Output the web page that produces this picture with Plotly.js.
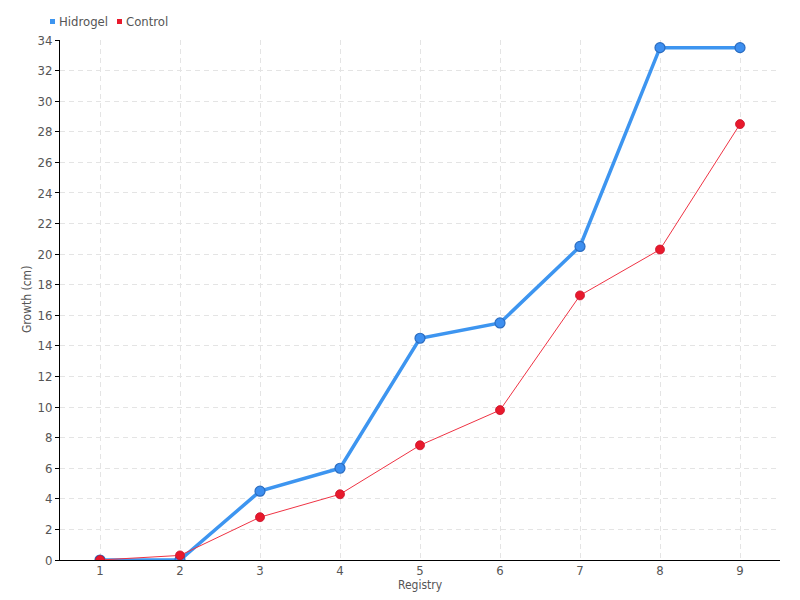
<!DOCTYPE html>
<html><head><meta charset="utf-8">
<script src="https://cdn.plot.ly/plotly-3.0.1.min.js"></script>
<style>body{margin:0;background:#fff}#chart{width:800px;height:600px}</style>
</head><body><div id="chart"></div>
<script>
const registry = [1,2,3,4,5,6,7,8,9];
const hidrogel = [0,0,4.5,6,14.5,15.5,20.5,33.5,33.5];
const control = [0,0.3,2.8,4.3,7.5,9.8,17.3,20.3,28.5];
const yTicks = [0,2,4,6,8,10,12,14,16,18,20,22,24,26,28,30,32,34];
const seriesNames = ['Hidrogel', 'Control'];
const seriesColors = ['#3d95f0', '#e8192c'];
const xTitle = 'Registry';
const yTitle = 'Growth (cm)';

const fam = '"DejaVu Sans Condensed", "DejaVu Sans", sans-serif';
const txt = {family: fam, size: 13, color: '#555'};
const ttl = {family: fam, size: 12, color: '#555'};

const traces = [
  {x: registry, y: hidrogel, name: seriesNames[0], type: 'scatter', mode: 'lines+markers', showlegend: false,
   line: {color: seriesColors[0], width: 3.5},
   marker: {color: '#3d8ff0', size: 10, line: {color: '#2a6cc0', width: 1.2}}},
  {x: registry, y: control, name: seriesNames[1], type: 'scatter', mode: 'lines+markers', showlegend: false,
   line: {color: '#ef3344', width: 1},
   marker: {color: seriesColors[1], size: 9, line: {color: '#c8102a', width: 0.8}}}
];

// legend drawn as small squares + labels above the plot (left-aligned)
const W = 720;
const legendX = [50, 117];
const shapes = [], annotations = [];
seriesNames.forEach((n, i) => {
  const x0 = (legendX[i] - 60) / W;
  shapes.push({type: 'rect', xref: 'paper', yref: 'paper', x0: x0, x1: x0 + 5 / W,
               y0: 1 + 16 / 520, y1: 1 + 21 / 520, fillcolor: seriesColors[i], line: {width: 0}});
  annotations.push({xref: 'paper', yref: 'paper', x: x0 + 7 / W, y: 1 + 18 / 520, xanchor: 'left', yanchor: 'middle',
                    text: n, showarrow: false, font: txt});
});
annotations.push({xref: 'paper', yref: 'paper', x: 0.5, y: 0, yshift: -25, xanchor: 'center', yanchor: 'middle',
                  text: xTitle, showarrow: false, font: ttl});
annotations.push({xref: 'paper', yref: 'paper', x: 0, xshift: -33, y: 0.5, textangle: -90, xanchor: 'center', yanchor: 'middle',
                  text: yTitle, showarrow: false, font: ttl});

const layout = {
  width: 800, height: 600,
  margin: {l: 60, r: 20, t: 40, b: 40},
  paper_bgcolor: '#fff', plot_bgcolor: '#fff',
  font: txt, showlegend: false, shapes: shapes, annotations: annotations,
  xaxis: {range: [0.5, 9.5], tickvals: registry, ticktext: registry.map(String),
          showgrid: true, gridcolor: '#e4e4e4', griddash: '5px,4px', zeroline: false,
          showline: true, linecolor: '#000', linewidth: 1, ticks: '', ticklabelstandoff: -2,
          tickfont: txt, automargin: false},
  yaxis: {range: [0, 34], tickvals: yTicks, showgrid: true, gridcolor: '#e4e4e4', griddash: '5px,4px',
          zeroline: false, showline: true, linecolor: '#000', linewidth: 1,
          ticks: 'outside', ticklen: 4, tickcolor: '#000', automargin: false,
          tickfont: txt}
};
Plotly.newPlot('chart', traces, layout, {displayModeBar: false});
</script></body></html>
